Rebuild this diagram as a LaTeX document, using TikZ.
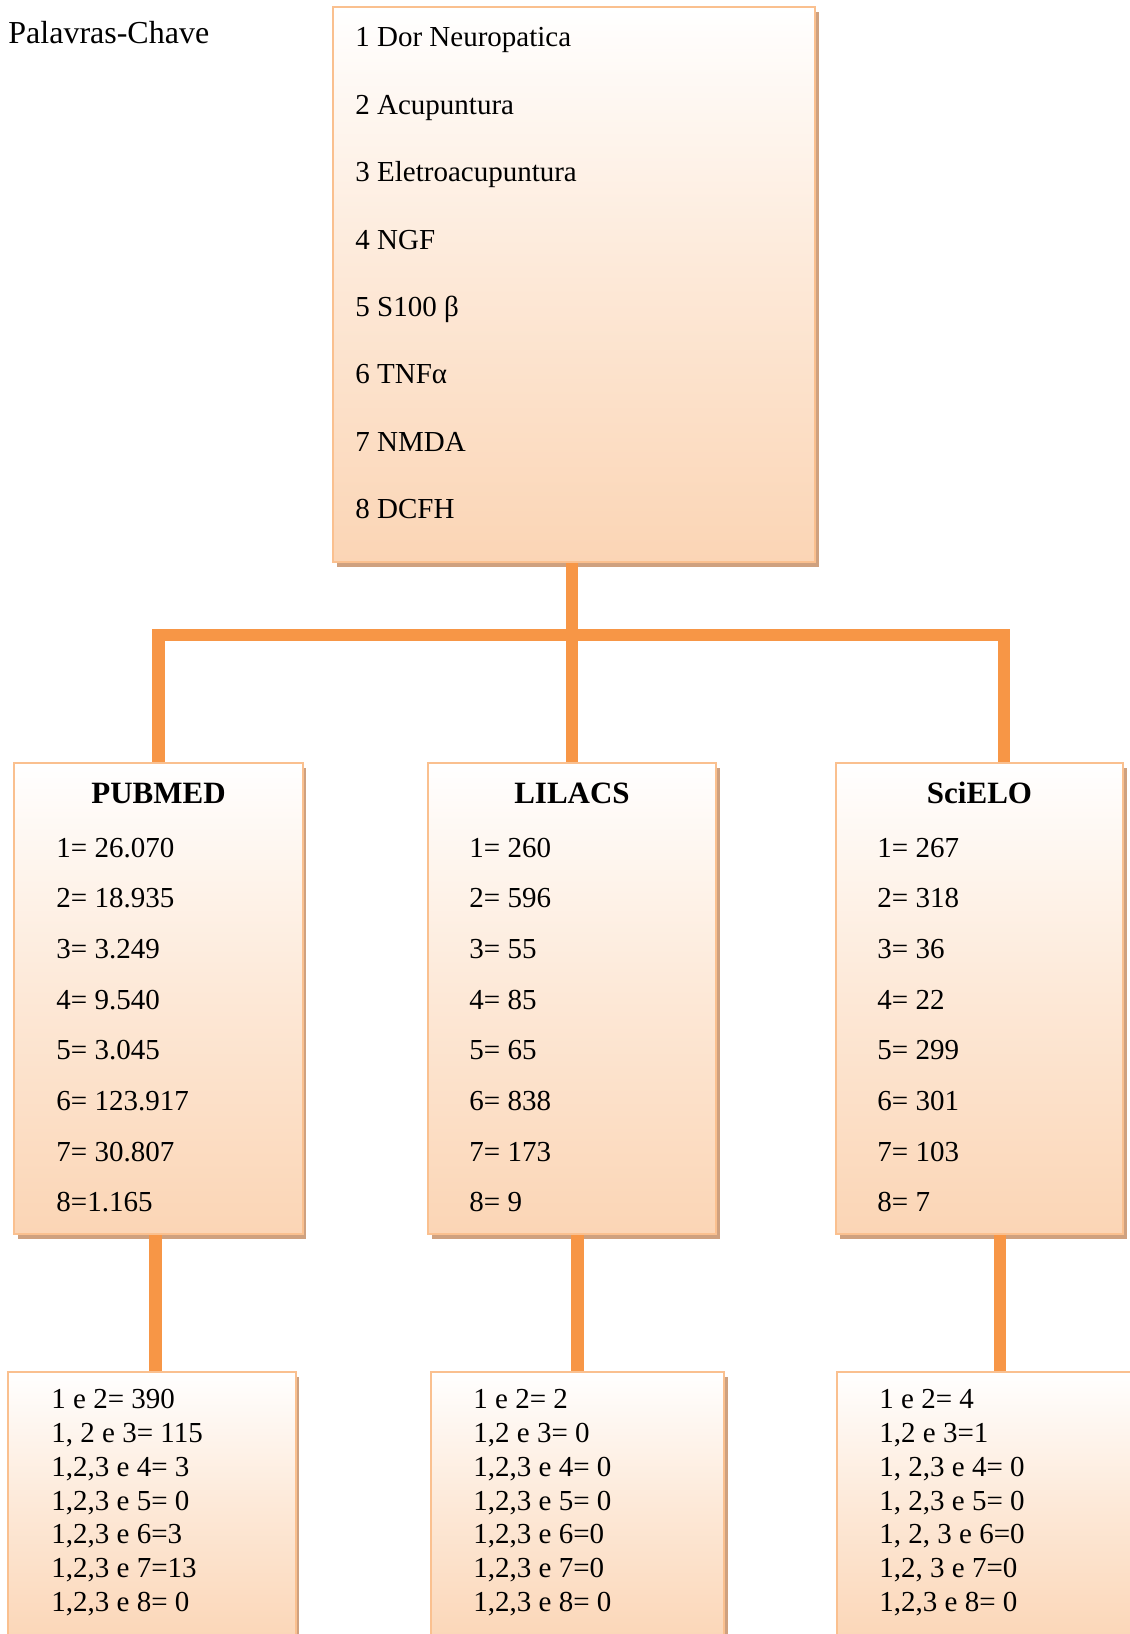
\documentclass[tikz,border=0pt]{standalone}
\usepackage{fontspec}
\setmainfont{Liberation Serif}
\usetikzlibrary{shadows}
\definecolor{peach}{HTML}{FBD5B5}
\definecolor{rim}{HTML}{FAC08F}
\definecolor{shadowtan}{HTML}{CFA17F}
\definecolor{linkorange}{HTML}{F79646}
\begin{document}
\begin{tikzpicture}[x=0.5pt,y=-0.5pt]
\tikzstyle{box}=[draw=rim,line width=1pt,inner sep=0pt,top color=white,bottom color=peach,middle color=peach!55!white,drop shadow={shadow xshift=1.8pt,shadow yshift=-2.6pt,fill=shadowtan,opacity=1}]
\tikzstyle{link}=[draw=linkorange,line width=6.3pt]
\tikzstyle{kw}=[anchor=base west,inner sep=0pt,font=\fontsize{14.5}{17}\selectfont]
\tikzstyle{dbtitle}=[anchor=base,inner sep=0pt,font=\fontsize{15.5}{18}\selectfont\bfseries]
\useasboundingbox (0,0) rectangle (1130,1634);

\node[anchor=base west,inner sep=0pt,font=\fontsize{16}{19}\selectfont] (head) at (8,43.3) {Palavras-Chave};

% boxes
\node[box,minimum width=241pt,minimum height=277.5pt] (keys) at (574,284.5) {};
\node[box,minimum width=144.2pt,minimum height=235.7pt] (pubmed) at (158.5,998.4) {};
\node[box,minimum width=144pt,minimum height=235.7pt] (lilacs) at (572,998.4) {};
\node[box,minimum width=143.5pt,minimum height=235.7pt] (scielo) at (979.5,998.4) {};
\node[box,minimum width=143.8pt,minimum height=139.2pt] (pubres) at (152,1510.9) {};
\node[box,minimum width=146.5pt,minimum height=139.2pt] (lilres) at (577.5,1510.9) {};
\node[box,minimum width=149.2pt,minimum height=139.2pt] (scires) at (985.9,1510.9) {};

% connectors
\coordinate (rightdrop) at (1004,635);
\coordinate (pubdrop) at (155.5,0);
\coordinate (scidrop) at (1000,0);
\draw[link] (keys.south -| lilacs.north) -- (lilacs.north);
\draw[link] (pubmed.north) |- (rightdrop) -- (rightdrop |- scielo.north);
\draw[link] (pubmed.south -| pubdrop) -- (pubres.north -| pubdrop);
\draw[link] (lilres.north |- lilacs.south) -- (lilres.north);
\draw[link] (scielo.south -| scidrop) -- (scires.north -| scidrop);

% keywords
\foreach \t [count=\i] in {1 Dor Neuropatica,2 Acupuntura,3 Eletroacupuntura,4 NGF,5 S100 β,6 TNFα,7 NMDA,8 DCFH}
  \node[kw] (kw\i) at (355,{46.7+67.45*(\i-1)}) {\t};

% databases
\node[dbtitle] (pubT) at (158.5,803.3) {PUBMED};
\node[dbtitle] (lilT) at (572,803.3) {LILACS};
\node[dbtitle] (sciT) at (979.5,803.3) {SciELO};
\foreach \t [count=\i] in {1= 26.070,2= 18.935,3= 3.249,4= 9.540,5= 3.045,6= 123.917,7= 30.807,8=1.165}
  \node[kw] (pub\i) at (56,{857.3+50.65*(\i-1)}) {\t};
\foreach \t [count=\i] in {1= 260,2= 596,3= 55,4= 85,5= 65,6= 838,7= 173,8= 9}
  \node[kw] (lil\i) at (469,{857.3+50.65*(\i-1)}) {\t};
\foreach \t [count=\i] in {1= 267,2= 318,3= 36,4= 22,5= 299,6= 301,7= 103,8= 7}
  \node[kw] (sci\i) at (877,{857.3+50.65*(\i-1)}) {\t};

% combinations
\foreach \t [count=\i] in {{1 e 2= 390},{1, 2 e 3= 115},{1,2,3 e 4= 3},{1,2,3 e 5= 0},{1,2,3 e 6=3},{1,2,3 e 7=13},{1,2,3 e 8= 0}}
  \node[kw] (pubc\i) at (51,{1408.3+33.9*(\i-1)}) {\t};
\foreach \t [count=\i] in {{1 e 2= 2},{1,2 e 3= 0},{1,2,3 e 4= 0},{1,2,3 e 5= 0},{1,2,3 e 6=0},{1,2,3 e 7=0},{1,2,3 e 8= 0}}
  \node[kw] (lilc\i) at (473,{1408.3+33.9*(\i-1)}) {\t};
\foreach \t [count=\i] in {{1 e 2= 4},{1,2 e 3=1},{1, 2,3 e 4= 0},{1, 2,3 e 5= 0},{1, 2, 3 e 6=0},{1,2, 3 e 7=0},{1,2,3 e 8= 0}}
  \node[kw] (scic\i) at (879,{1408.3+33.9*(\i-1)}) {\t};
\end{tikzpicture}
\end{document}
